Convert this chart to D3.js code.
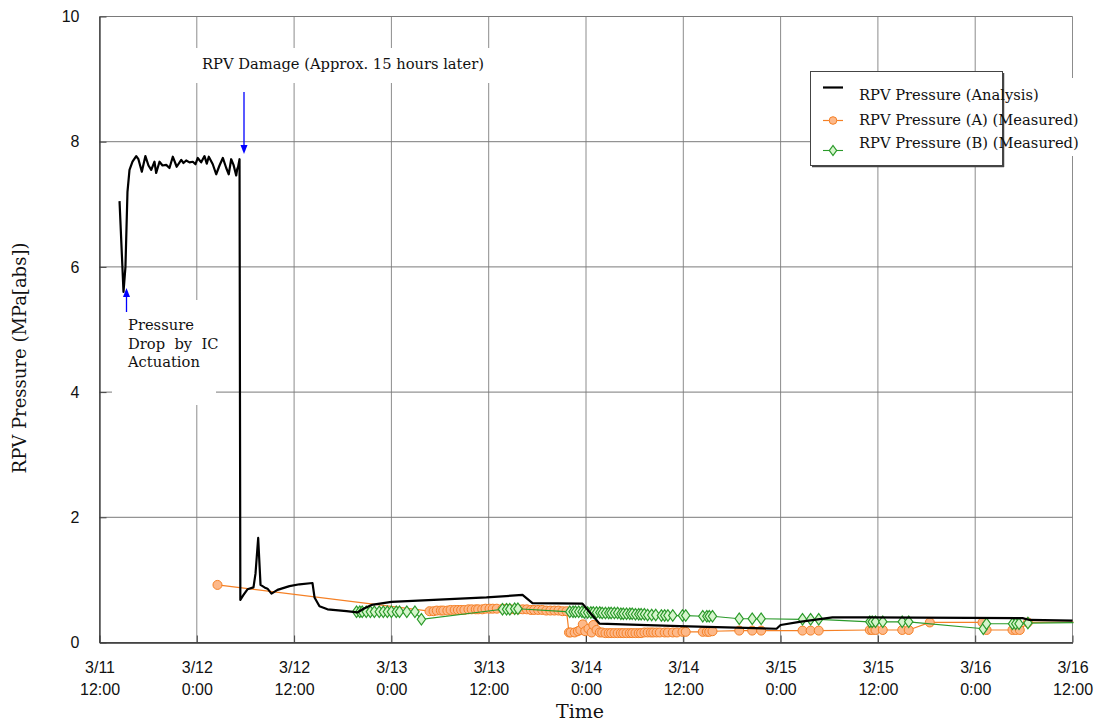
<!DOCTYPE html>
<html><head><meta charset="utf-8">
<script src="https://cdn.jsdelivr.net/npm/d3@7"></script>
<style>body{margin:0;background:#fff}svg{display:block}</style>
</head><body><svg id="chart" width="1096" height="722"></svg>
<script>
// ---------- data (time in hours after 3/11 12:00) ----------
const startTime = new Date(2011, 2, 11, 12, 0);
const endTime = new Date(2011, 2, 16, 12, 0);
const xTickHours = [0, 12, 24, 36, 48, 60, 72, 84, 96, 108, 120];
const xTickLabels = [["3/11","12:00"],["3/12","0:00"],["3/12","12:00"],["3/13","0:00"],["3/13","12:00"],
  ["3/14","0:00"],["3/14","12:00"],["3/15","0:00"],["3/15","12:00"],["3/16","0:00"],["3/16","12:00"]];
const yTicks = [0, 2, 4, 6, 8, 10];

const analysisHours = [2.47,2.96,3.2,3.45,3.7,4.07,4.53,4.8,5.22,5.66,6.04,6.38,6.78,6.99,7.4,7.77,8.23,8.63,9.04,9.52,
  10.08,10.36,10.69,11.1,11.51,11.84,12.12,12.54,12.95,13.23,13.48,13.97,14.39,14.8,15.21,15.63,15.94,16.24,16.53,16.86,
  16.98,17.1,17.27,17.37,17.76,18.25,18.99,19.24,19.57,19.86,20.35,20.72,21.21,21.95,23.43,24.67,26.27,26.52,27.13,28.12,
  30.46,31.82,32.56,33.55,36.01,47.73,52.17,53.4,59.57,61.67,71.53,83.5,84.0,86.33,90.4,94.97,113.84,114.7,120];
const analysisValues = [7.05,5.6,6.0,7.2,7.55,7.68,7.77,7.72,7.52,7.77,7.62,7.55,7.68,7.5,7.68,7.62,7.63,7.58,7.76,7.6,
  7.71,7.66,7.7,7.67,7.68,7.64,7.74,7.67,7.77,7.65,7.76,7.64,7.48,7.62,7.74,7.58,7.48,7.72,7.63,7.46,
  7.56,7.6,7.72,0.68,0.76,0.85,0.88,1.1,1.67,0.92,0.88,0.86,0.78,0.84,0.9,0.93,0.95,0.72,0.58,0.53,
  0.5,0.48,0.54,0.6,0.65,0.72,0.76,0.63,0.62,0.3,0.26,0.22,0.28,0.33,0.4,0.4,0.39,0.36,0.35];

const measuredAHours = [14.55,
  40.7,41.2,41.6,42.1,42.4,42.9,43.3,43.8,44.2,44.6,45.0,45.5,45.9,46.4,46.7,47.2,47.6,48.1,48.5,49.0,
  49.7,50.2,50.7,51.2,51.7,52.2,52.7,53.2,53.6,54.1,54.6,55.1,55.6,56.1,56.6,57.1,57.6,
  57.9,58.1,58.6,59.0,59.3,59.6,59.9,60.3,60.7,60.9,61.3,61.7,
  62.0,62.4,62.8,63.1,63.5,63.9,64.3,64.6,65.0,65.4,65.7,66.1,66.5,66.8,67.2,67.6,68.0,68.3,68.7,69.1,
  69.7,70.1,70.7,71.2,71.9,72.3,74.4,74.9,75.2,75.6,78.9,80.5,81.6,
  86.7,87.7,88.7,95.0,95.3,95.7,96.6,99.0,99.8,102.4,108.9,109.4,112.6,113.0,113.5,114.5,122];
const measuredAValues = [0.92,
  0.50,0.50,0.51,0.51,0.51,0.51,0.52,0.52,0.52,0.52,0.52,0.53,0.53,0.53,0.53,0.53,0.54,0.54,0.54,0.54,
  0.54,0.54,0.53,0.53,0.53,0.53,0.53,0.52,0.52,0.52,0.52,0.51,0.51,0.51,0.51,0.50,0.50,
  0.16,0.16,0.16,0.18,0.20,0.29,0.18,0.22,0.16,0.28,0.20,0.16,
  0.16,0.15,0.15,0.15,0.15,0.15,0.15,0.15,0.15,0.15,0.15,0.15,0.15,0.15,0.16,0.16,0.16,0.16,0.16,0.16,
  0.16,0.16,0.16,0.16,0.17,0.17,0.17,0.17,0.17,0.18,0.19,0.19,0.19,
  0.19,0.19,0.19,0.20,0.20,0.20,0.20,0.20,0.20,0.32,0.32,0.20,0.20,0.20,0.20,0.32,0.33];

const measuredBHours = [31.7,32.1,32.4,32.9,33.4,33.9,34.5,35.0,35.5,36.0,36.6,37.0,37.9,38.9,39.7,
  49.7,50.2,50.6,51.2,51.6,
  58.0,58.4,58.7,59.1,59.5,59.8,60.2,60.6,60.9,61.3,61.7,62.0,62.4,62.8,63.1,63.5,63.9,64.3,64.6,65.0,65.4,65.7,66.1,66.5,66.8,67.2,
  67.6,68.1,68.6,69.3,69.7,70.1,70.7,71.9,72.3,74.4,74.9,75.2,75.6,78.9,80.5,81.6,
  86.7,87.7,88.7,95.0,95.3,95.7,96.6,99.0,99.8,109.0,109.4,112.6,113.0,113.4,114.5,122];
const measuredBValues = [0.49,0.49,0.49,0.49,0.49,0.49,0.49,0.49,0.49,0.49,0.49,0.49,0.49,0.49,0.37,
  0.53,0.53,0.53,0.54,0.54,
  0.49,0.49,0.49,0.49,0.49,0.48,0.48,0.48,0.48,0.48,0.48,0.47,0.47,0.47,0.47,0.47,0.47,0.46,0.46,0.46,0.46,0.46,0.45,0.45,0.45,0.45,
  0.44,0.44,0.44,0.43,0.43,0.43,0.43,0.43,0.43,0.42,0.42,0.42,0.42,0.38,0.38,0.38,
  0.37,0.37,0.37,0.33,0.33,0.33,0.33,0.33,0.33,0.22,0.30,0.30,0.30,0.30,0.31,0.32];

const seriesNames = ["RPV Pressure (Analysis)", "RPV Pressure (A) (Measured)", "RPV Pressure (B) (Measured)"];

// ---------- chart ----------
const svg = d3.select("#chart");
const toDate = h => new Date(startTime.getTime() + h * 3600e3);
const x = d3.scaleTime().domain([startTime, endTime]).range([99.5, 1072.5]);
const y = d3.scaleLinear().domain([0, 10]).range([642.5, 16.5]);
const serif = "'DejaVu Serif', serif";
const sans = "'Liberation Sans', Arial, sans-serif";

svg.append("defs").append("clipPath").attr("id", "plotclip")
  .append("rect").attr("x", 99).attr("y", 0).attr("width", 974.5).attr("height", 650);

// gridlines
const grid = svg.append("g");
grid.selectAll("line.v").data(xTickHours).join("line")
  .attr("x1", d => x(toDate(d))).attr("x2", d => x(toDate(d)))
  .attr("y1", y(10)).attr("y2", y(0)).attr("stroke", "#8c8c8c").attr("stroke-width", 1);
grid.selectAll("line.h").data(yTicks).join("line")
  .attr("x1", x(startTime)).attr("x2", x(endTime))
  .attr("y1", d => y(d)).attr("y2", d => y(d)).attr("stroke", "#7a7a7a").attr("stroke-width", 1);

// axes
const xAxis = d3.axisBottom(x).tickValues(xTickHours.map(toDate)).tickSizeInner(-7).tickSizeOuter(0).tickFormat("");
const gx = svg.append("g").attr("transform", `translate(0,${y(0)})`).call(xAxis);
gx.select(".domain").attr("stroke", "#333").attr("stroke-width", 1.3);
gx.selectAll(".tick line").attr("stroke", "#444");
gx.selectAll(".tick").each(function(d, i) {
  const t = d3.select(this).append("text").attr("fill", "#111").attr("font-family", sans)
    .attr("font-size", 16).attr("text-anchor", "middle");
  t.append("tspan").attr("x", 0).attr("y", 30).text(xTickLabels[i][0]);
  t.append("tspan").attr("x", 0).attr("y", 52).text(xTickLabels[i][1]);
});

const yAxis = d3.axisLeft(y).tickValues(yTicks).tickSizeInner(-7).tickSizeOuter(0).tickPadding(20).tickFormat(d3.format("d"));
const gy = svg.append("g").attr("transform", `translate(${x(startTime)},0)`).call(yAxis);
gy.select(".domain").attr("stroke", "#333").attr("stroke-width", 1.3);
gy.selectAll(".tick line").attr("stroke", "#444");
gy.selectAll(".tick text").attr("font-family", sans).attr("font-size", 16).attr("fill", "#111");

// axis titles
svg.append("text").attr("x", 580).attr("y", 718).attr("text-anchor", "middle")
  .attr("font-family", serif).attr("font-size", 19).attr("fill", "#111").text("Time");
svg.append("text").attr("transform", "translate(26,358) rotate(-90)").attr("text-anchor", "middle")
  .attr("font-family", serif).attr("font-size", 18).attr("fill", "#111").text("RPV Pressure (MPa[abs])");

// annotation boxes (white backgrounds)
svg.append("rect").attr("x", 192).attr("y", 48).attr("width", 300).attr("height", 35).attr("fill", "#fff");
svg.append("rect").attr("x", 112).attr("y", 300).attr("width", 104).attr("height", 105).attr("fill", "#fff");
svg.append("text").attr("x", 202).attr("y", 69).attr("font-family", serif).attr("font-size", 14.7).attr("fill", "#111")
  .text("RPV Damage (Approx. 15 hours later)");
const ic = svg.append("text").attr("font-family", serif).attr("font-size", 14.7).attr("fill", "#111");
[["Pressure", 330], ["Drop  by  IC", 349], ["Actuation", 367]].forEach(([s, yy]) =>
  ic.append("tspan").attr("x", 128).attr("y", yy).attr("xml:space", "preserve").style("white-space", "pre").text(s));

// series
const plot = svg.append("g").attr("clip-path", "url(#plotclip)");
const line = d3.line().x(d => x(toDate(d[0]))).y(d => y(d[1]));
const dataA = measuredAHours.map((h, i) => [h, measuredAValues[i]]);
const dataB = measuredBHours.map((h, i) => [h, measuredBValues[i]]);
const dataAn = analysisHours.map((h, i) => [h, analysisValues[i]]);

const orange = "#f58025", orangeFill = "#fdb98a", green = "#2a9a2a", greenFill = "#d6f5cc";
plot.append("path").datum(dataA).attr("d", line).attr("fill", "none").attr("stroke", orange).attr("stroke-width", 1.2);
plot.selectAll("circle.a").data(dataA).join("circle").attr("class", "a")
  .attr("cx", d => x(toDate(d[0]))).attr("cy", d => y(d[1])).attr("r", 4.5)
  .attr("fill", orangeFill).attr("stroke", orange).attr("stroke-width", 1);
plot.append("path").datum(dataB).attr("d", line).attr("fill", "none").attr("stroke", green).attr("stroke-width", 1.1);
const diamond = d3.symbol().type(d3.symbolDiamond).size(38);
plot.selectAll("path.b").data(dataB).join("path").attr("class", "b")
  .attr("transform", d => `translate(${x(toDate(d[0]))},${y(d[1])}) scale(1.25,1)`).attr("d", diamond)
  .attr("fill", greenFill).attr("stroke", green).attr("stroke-width", 1);
plot.append("path").datum(dataAn).attr("d", line).attr("fill", "none").attr("stroke", "#000")
  .attr("stroke-width", 2.2).attr("stroke-linejoin", "round");

// arrows
const blue = "#0000ff";
svg.append("line").attr("x1", 244).attr("x2", 244).attr("y1", 92).attr("y2", 146).attr("stroke", blue).attr("stroke-width", 1.3);
svg.append("path").attr("d", "M240.5,145 L247.5,145 L244,154 Z").attr("fill", blue);
svg.append("line").attr("x1", 126.5).attr("x2", 126.5).attr("y1", 312).attr("y2", 296).attr("stroke", blue).attr("stroke-width", 1.3);
svg.append("path").attr("d", "M123,297 L130,297 L126.5,288 Z").attr("fill", blue);

// legend
const lg = svg.append("g");
lg.append("rect").attr("x", 1003).attr("y", 78).attr("width", 80).attr("height", 78).attr("fill", "#fff");
lg.append("rect").attr("x", 810.5).attr("y", 71.5).attr("width", 192).attr("height", 94).attr("fill", "#fff")
  .attr("stroke", "#444").attr("stroke-width", 1);
lg.append("line").attr("x1", 1003.5).attr("x2", 1003.5).attr("y1", 73).attr("y2", 167).attr("stroke", "#444").attr("stroke-width", 1.5);
lg.append("line").attr("x1", 812).attr("x2", 1004).attr("y1", 166.5).attr("y2", 166.5).attr("stroke", "#444").attr("stroke-width", 1.5);
const legY = [87.5, 120.5, 150.5], legTextY = [99.5, 125, 147.5];
lg.append("line").attr("x1", 823).attr("x2", 843).attr("y1", legY[0]).attr("y2", legY[0]).attr("stroke", "#000").attr("stroke-width", 2.2);
lg.append("line").attr("x1", 823).attr("x2", 843).attr("y1", legY[1]).attr("y2", legY[1]).attr("stroke", orange).attr("stroke-width", 1.2);
lg.append("circle").attr("cx", 833).attr("cy", legY[1]).attr("r", 3.8).attr("fill", orangeFill).attr("stroke", orange);
lg.append("line").attr("x1", 823).attr("x2", 843).attr("y1", legY[2]).attr("y2", legY[2]).attr("stroke", green).attr("stroke-width", 1.1);
lg.append("path").attr("transform", `translate(833,${legY[2]}) scale(1.25,1)`).attr("d", d3.symbol().type(d3.symbolDiamond).size(30))
  .attr("fill", greenFill).attr("stroke", green);
lg.selectAll("text.l").data(seriesNames).join("text").attr("class", "l")
  .attr("x", 859).attr("y", (d, i) => legTextY[i]).attr("font-family", serif).attr("font-size", 14.7).attr("fill", "#111").text(d => d);
</script></body></html>
